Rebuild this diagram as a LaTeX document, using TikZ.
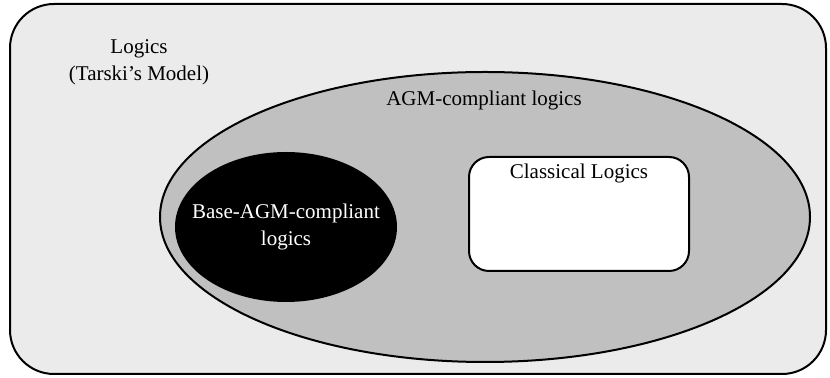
\documentclass[tikz,border=0pt]{standalone}
\usepackage{fontspec}
\setmainfont{Liberation Serif}
\usetikzlibrary{shapes,positioning}
\definecolor{worldgray}{RGB}{235,235,235}
\definecolor{agmgray}{RGB}{192,192,192}
\tikzset{
    world/.style={
        rectangle,
        rounded corners=22pt,
        draw=black,
        line width=1pt,
        fill=worldgray,
        minimum width=408pt,
        minimum height=185pt,
    },
    agm/.style={
        ellipse,
        draw=black,
        line width=1pt,
        fill=agmgray,
        minimum width=325pt,
        minimum height=145pt,
    },
    base/.style={
        ellipse,
        fill=black,
        inner sep=0pt,
        minimum width=111pt,
        minimum height=75pt,
    },
    classic/.style={
        rectangle,
        rounded corners=10pt,
        draw=black,
        line width=1pt,
        fill=white,
        minimum width=110pt,
        minimum height=57pt,
    },
    lbl/.style={
        align=center,
        inner sep=0pt,
    },
    every node/.style={font=\fontsize{10.5}{13.5}\selectfont},
}

\begin{document}
\begin{tikzpicture}[x=0.5pt,y=-0.5pt]
    \useasboundingbox (0,0) rectangle (830,378);
    \node [world] (logics) at (418,189) {};
    \node [agm] (agmc) at (485,217) {};
    \node [base] (basec) at (286,227) {};
    \node [classic] (classical) at (579,214) {};

    \node [lbl] (logicstxt) at (139,62) {Logics\\(Tarski's Model)};
    \node [lbl] (agmtxt) at (484,100) {AGM-compliant logics};
    \node [lbl,text=white] (basetxt) at (basec) {Base-AGM-compliant\\logics};
    \node [lbl,below=4pt of classical.north] (classtxt) {Classical Logics};
\end{tikzpicture}
\end{document}
